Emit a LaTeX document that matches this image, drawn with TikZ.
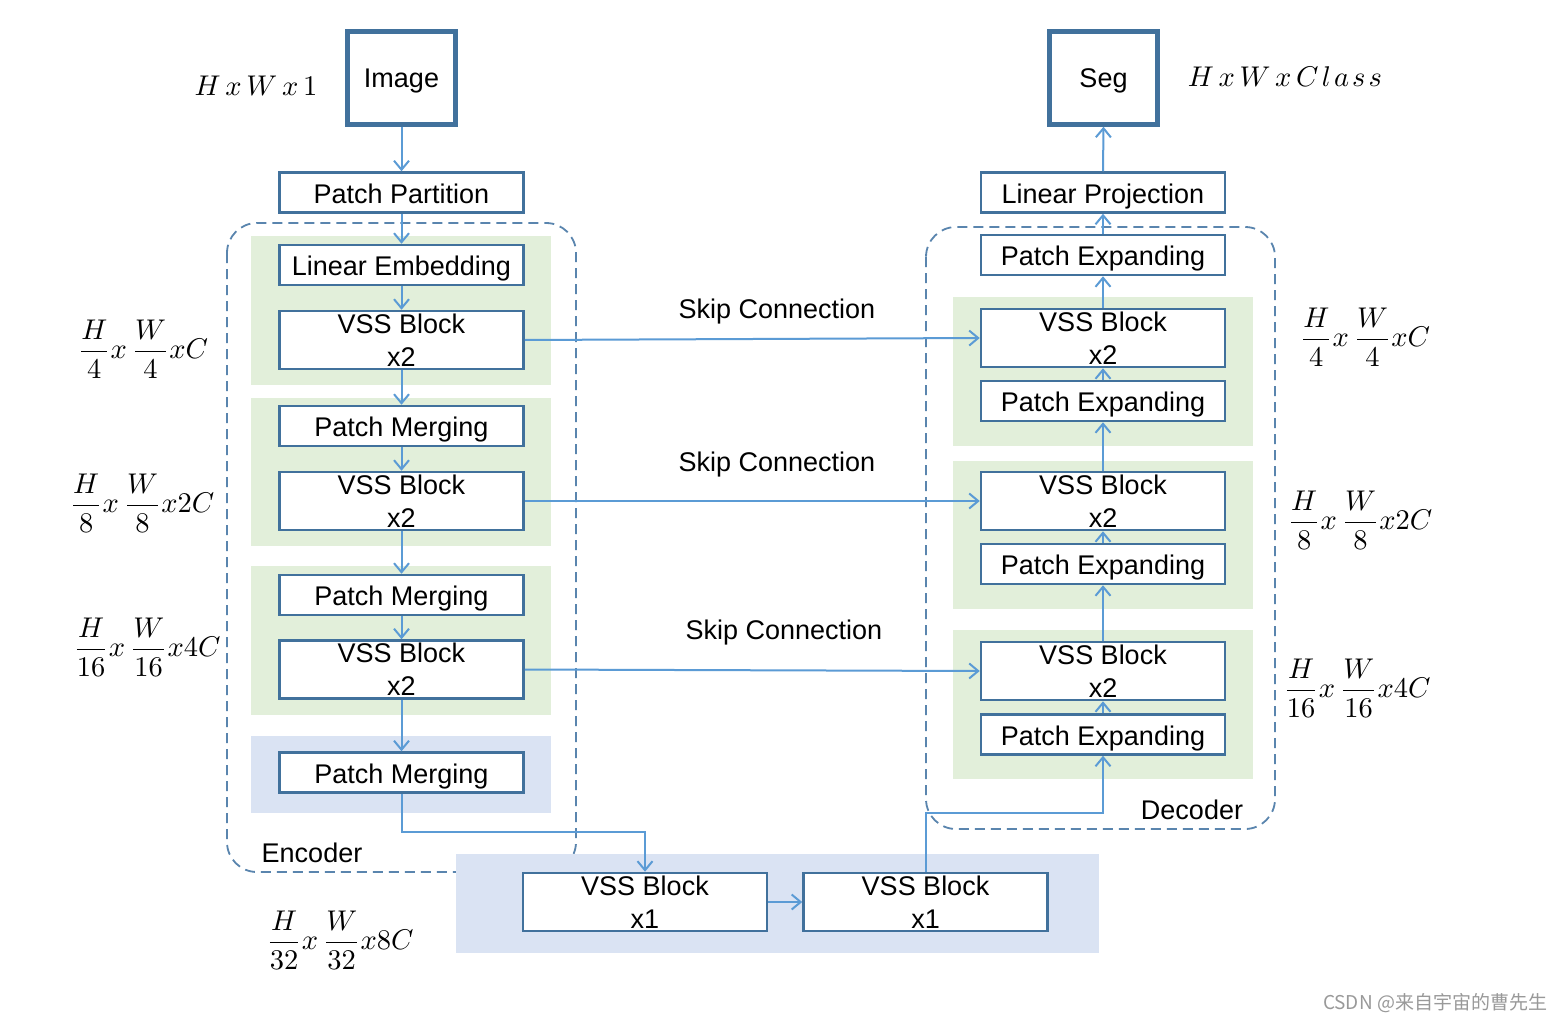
\documentclass[tikz,border=0pt]{standalone}
\usepackage{amsmath}
\usepackage[no-math]{fontspec}
\setmainfont{Liberation Sans}
\newfontfamily\cjk{Noto Sans CJK SC}
\usetikzlibrary{arrows.meta}
\definecolor{boxc}{HTML}{41719C}
\definecolor{arrc}{HTML}{5B9BD5}
\definecolor{grn}{HTML}{E2EFDA}
\definecolor{blu}{HTML}{DAE3F3}
\definecolor{dashc}{HTML}{5A85AE}
\begin{document}
\begin{tikzpicture}[x=1pt,y=-1pt,
  blk/.style={draw=boxc, line width=2.5pt, fill=white, inner sep=0pt,
    minimum width=244pt, font=\fontsize{27}{33}\selectfont},
  oneline/.style={blk, minimum height=40pt, text height=25pt, text depth=4pt},
  twoline/.style={blk, minimum height=58pt, align=center},
  io/.style={draw=boxc, line width=4.5pt, fill=white, inner sep=0pt,
    minimum width=108pt, minimum height=93pt, text height=24pt, text depth=4pt,
    font=\fontsize{27}{32}\selectfont},
  arr/.style={draw=arrc, line width=2pt, -{Straight Barb[length=9pt,width=15pt,line width=2pt]}},
  grp/.style={draw=dashc, line width=1.8pt, dash pattern=on 10pt off 6pt, rounded corners=30pt},
  lbl/.style={font=\fontsize{27}{32}\selectfont, inner sep=0pt, text height=25pt, text depth=4pt},
  dim/.style={scale=2.85, inner sep=0pt},
]
\useasboundingbox[fill=white] (0,0) rectangle (1566,1022);

% ---------- Encoder ----------
\draw[grp] (227,223) rectangle (576,872);
\fill[grn] (251,236) rectangle (551,385);
\fill[grn] (251,398) rectangle (551,546);
\fill[grn] (251,566) rectangle (551,715);
\fill[blu] (251,736) rectangle (551,813);

\node[io] (img) at (401.5,78) {Image};
\node[oneline] (pp) at (401.5,192.5) {Patch Partition};
\node[oneline] (le) at (401.5,265) {Linear Embedding};
\node[twoline] (v1) at (401.5,340) {VSS Block\\x2};
\node[oneline] (pm1) at (401.5,426) {Patch Merging};
\node[twoline] (v2) at (401.5,501) {VSS Block\\x2};
\node[oneline] (pm2) at (401.5,595) {Patch Merging};
\node[twoline] (v3) at (401.5,669.5) {VSS Block\\x2};
\node[oneline] (pm3) at (401.5,772.5) {Patch Merging};
\node[lbl] (enc) at (312,852) {Encoder};

% ---------- Decoder ----------
\draw[grp] (926,227) rectangle (1275,829);
\fill[grn] (953,297) rectangle (1253,446);
\fill[grn] (953,461) rectangle (1253,609);
\fill[grn] (953,630) rectangle (1253,779);

\node[io] (seg) at (1103.5,78) {Seg};
\node[oneline] (lp) at (1103,192.5) {Linear Projection};
\node[oneline] (pe0) at (1103,255) {Patch Expanding};
\node[twoline] (d1) at (1103,338) {VSS Block\\x2};
\node[oneline] (pe1) at (1103,401) {Patch Expanding};
\node[twoline] (d2) at (1103,501) {VSS Block\\x2};
\node[oneline] (pe2) at (1103,564) {Patch Expanding};
\node[twoline] (d3) at (1103,671) {VSS Block\\x2};
\node[oneline] (pe3) at (1103,734.5) {Patch Expanding};
\node[lbl] (dec) at (1192,809) {Decoder};

% ---------- Bottleneck ----------
\fill[blu] (456,854) rectangle (1099,953);
\node[twoline] (ba) at (645,902) {VSS Block\\x1};
\node[twoline] (bb) at (925.5,902) {VSS Block\\x1};

% ---------- connectors ----------
\draw[arr] (img.south) -- (pp.north);
\draw[arr] (pp.south) -- (le.north);
\draw[arr] (le.south) -- (v1.north);
\draw[arr] (v1.south) -- (pm1.north);
\draw[arr] (pm1.south) -- (v2.north);
\draw[arr] (v2.south) -- (pm2.north);
\draw[arr] (pm2.south) -- (v3.north);
\draw[arr] (v3.south) -- (pm3.north);
\coordinate (c1) at (401.5,832);
\draw[arr] (pm3.south) -- (c1) -| (ba.north);
\draw[arr] (ba.east) -- (bb.west);
\coordinate (c2) at (925.5,813);
\draw[arr] (bb.north) -- (c2) -| (pe3.south);
\draw[arr] (pe3.north) -- (d3.south);
\draw[arr] (d3.north) -- (pe2.south);
\draw[arr] (pe2.north) -- (d2.south);
\draw[arr] (d2.north) -- (pe1.south);
\draw[arr] (pe1.north) -- (d1.south);
\draw[arr] (d1.north) -- (pe0.south);
\draw[arr] (pe0.north) -- (lp.south);
\draw[arr] (lp.north) -- (seg.south);

\draw[arr] (v1.east) -- (d1.west);
\draw[arr] (v2.east) -- (d2.west);
\draw[arr] (v3.east) -- (d3.west);
\node[lbl] (s1) at (777,308) {Skip Connection};
\node[lbl] (s2) at (777,461) {Skip Connection};
\node[lbl] (s3) at (784,629) {Skip Connection};

% ---------- dimension labels ----------
\node[dim] (t0) at (256,86) {$H\,x\,W\,x\,1$};
\node[dim] (t1) at (1285,77) {$H\,x\,W\,x\,C\mkern2mu l\mkern2mu a\mkern2mu s\mkern2mu s$};
\node[dim] (l1) at (143,349) {$\dfrac{H}{4}x\,\dfrac{W}{4}xC$};
\node[dim] (l2) at (142,503) {$\dfrac{H}{8}x\,\dfrac{W}{8}x2C$};
\node[dim] (l3) at (147,647) {$\dfrac{H}{16}x\,\dfrac{W}{16}x4C$};
\node[dim] (l4) at (340,940) {$\dfrac{H}{32}x\,\dfrac{W}{32}x8C$};
\node[dim] (r1) at (1365,337) {$\dfrac{H}{4}x\,\dfrac{W}{4}xC$};
\node[dim] (r2) at (1360,520) {$\dfrac{H}{8}x\,\dfrac{W}{8}x2C$};
\node[dim] (r3) at (1357,688) {$\dfrac{H}{16}x\,\dfrac{W}{16}x4C$};

\node[inner sep=0pt, text=black!40, font=\cjk\fontsize{19}{22}\selectfont] (wm) at (1435,1003) {CSDN @来自宇宙的曹先生};
\end{tikzpicture}
\end{document}
